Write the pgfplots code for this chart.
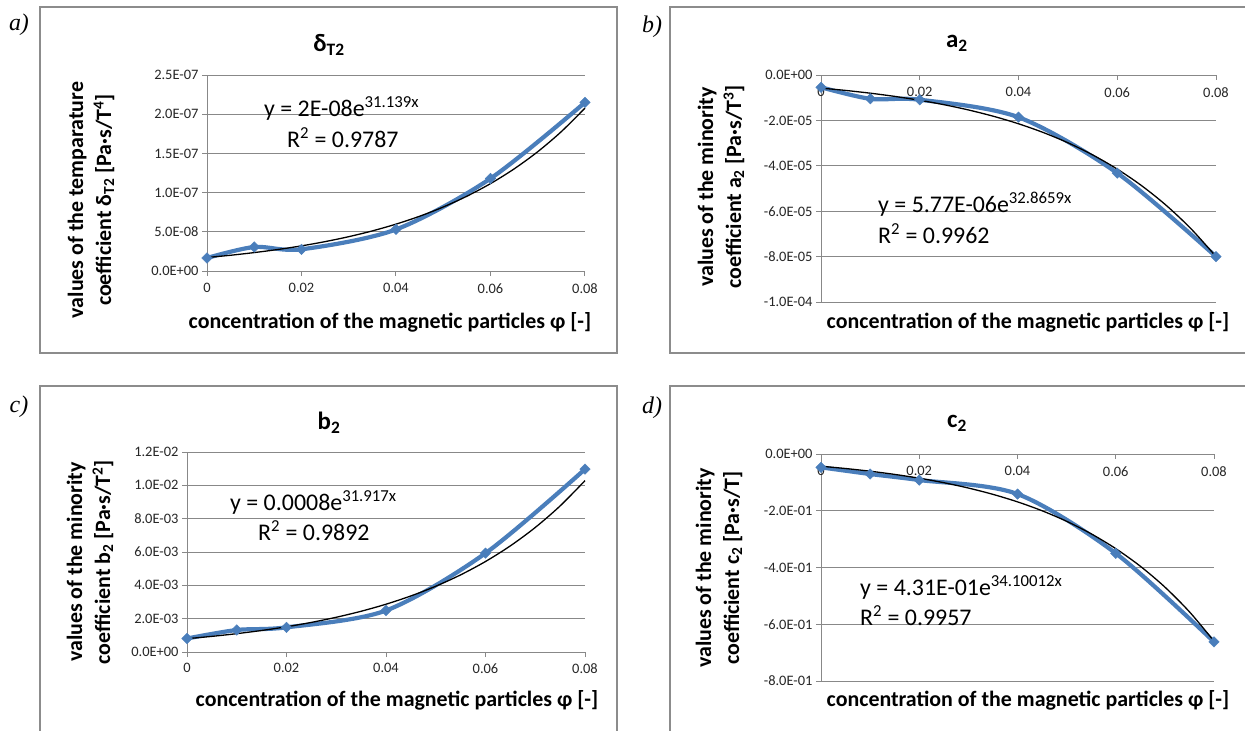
\documentclass[border=0pt]{standalone}
\usepackage{pgfplots}
\pgfplotsset{compat=1.18}
\usepackage{fontspec}
\setmainfont{Carlito}
\newfontfamily\timesfont{Liberation Serif}
\definecolor{xlblue}{HTML}{4A7EBB}
\definecolor{gridc}{HTML}{888888}
\definecolor{framec}{HTML}{8C8C8C}
\pgfplotsset{
 xlstyle/.style={
  scale only axis, anchor=south west,
  axis x line*=bottom, axis y line*=left,
  axis line style={gridc, line width=1bp},
  ymajorgrids, major grid style={gridc, line width=1bp},
  tick style={gridc, line width=1bp},
  major tick length=5bp, tick align=outside,
  xmin=0, xmax=0.08,
  xtick={0,0.02,0.04,0.06,0.08},
  xticklabels={0,0.02,0.04,0.06,0.08},
  scaled y ticks=false, scaled x ticks=false,
  ticklabel style={font=\fontsize{14.5}{16}\selectfont, text=black!85},
  clip=false,
 },
 blueline/.style={xlblue, line width=4.2bp, smooth, tension=0.5, mark=square*,
   mark size=3.7bp, mark options={rotate=45, solid, line width=0.4bp, fill=xlblue, draw=xlblue}},
 trend/.style={black, line width=1.3bp, smooth, no marks},
}
\tikzset{
 ttl/.style={font=\fontsize{25}{30}\selectfont\bfseries},
 ylab/.style={rotate=90, align=center, font=\fontsize{22}{28}\selectfont\bfseries},
 xlab/.style={font=\fontsize{22}{28}\selectfont\bfseries},
 eqn/.style={anchor=base west, font=\fontsize{24}{28}\selectfont, inner sep=0pt},
 pl/.style={font=\fontsize{24}{28}\selectfont\timesfont\itshape},
}
\begin{document}
\begin{tikzpicture}
\useasboundingbox (0,0) rectangle (1245bp,-731bp);
% frames
\draw[framec, line width=1.2bp] (40bp,-7bp) rectangle (617bp,-353bp);
\draw[framec, line width=1.2bp] (1250bp,-7bp) -- (670bp,-7bp) -- (670bp,-353bp) -- (1250bp,-353bp);
\draw[framec, line width=1.2bp] (40bp,-740bp) -- (40bp,-386bp) -- (617bp,-386bp) -- (617bp,-740bp);
\draw[framec, line width=1.2bp] (670bp,-740bp) -- (670bp,-386bp) -- (1250bp,-386bp);

% ---------- a) delta_T2
\begin{axis}[xlstyle, at={(207bp,-271bp)}, width=378bp, height=196bp,
  xticklabel style={yshift=-4bp},
  ymin=0, ymax=2.5e-7,
  ytick={0,5e-8,1e-7,1.5e-7,2e-7,2.5e-7},
  yticklabels={0.0E+00,5.0E-08,1.0E-07,1.5E-07,2.0E-07,2.5E-07}]
\addplot[blueline] coordinates {(0,1.66e-8) (0.01,3.06e-8) (0.02,2.77e-8) (0.04,5.3e-8) (0.06,1.18e-7) (0.08,2.15e-7)};
\addplot[trend] coordinates {(0,1.72e-8) (0.005,2.0098e-8) (0.01,2.349e-8) (0.015,2.7448e-8) (0.02,3.207e-8) (0.025,3.7473e-8) (0.03,4.378e-8) (0.035,5.1156e-8) (0.04,5.978e-8) (0.045,6.9852e-8) (0.05,8.163e-8) (0.055,9.5383e-8) (0.06,1.1146e-7) (0.065,1.30239e-7) (0.07,1.5219e-7) (0.075,1.77831e-7) (0.08,2.078e-7)};
\end{axis}

% ---------- b) a_2
\begin{axis}[xlstyle, at={(821bp,-302bp)}, width=395bp, height=227bp,
  axis x line*=top, xtick align=inside, ytick align=outside,
  xticklabel style={anchor=north, yshift=-9bp},
  ymin=-1e-4, ymax=0,
  ytick={-1e-4,-8e-5,-6e-5,-4e-5,-2e-5,0},
  yticklabels={-1.0E-04,-8.0E-05,-6.0E-05,-4.0E-05,-2.0E-05,0.0E+00}]
\addplot[blueline] coordinates {(0,-5.4e-6) (0.01,-1.05e-5) (0.02,-1.09e-5) (0.04,-1.86e-5) (0.06,-4.32e-5) (0.08,-8.0e-5)};
\addplot[trend] coordinates {(0,-5.77e-6) (0.005,-6.8005e-6) (0.01,-8.015e-6) (0.015,-9.4465e-6) (0.02,-1.1134e-5) (0.025,-1.3123e-5) (0.03,-1.5466e-5) (0.035,-1.8228e-5) (0.04,-2.1484e-5) (0.045,-2.5321e-5) (0.05,-2.9843e-5) (0.055,-3.5173e-5) (0.06,-4.1455e-5) (0.065,-4.8859e-5) (0.07,-5.7585e-5) (0.075,-6.7870e-5) (0.08,-7.999e-5)};
\end{axis}

% ---------- c) b_2
\begin{axis}[xlstyle, at={(187bp,-652bp)}, width=398bp, height=200bp,
  xticklabel style={yshift=-3bp},
  ymin=0, ymax=1.2e-2,
  ytick={0,2e-3,4e-3,6e-3,8e-3,1e-2,1.2e-2},
  yticklabels={0.0E+00,2.0E-03,4.0E-03,6.0E-03,8.0E-03,1.0E-02,1.2E-02}]
\addplot[blueline] coordinates {(0,8.1e-4) (0.01,1.32e-3) (0.02,1.48e-3) (0.04,2.49e-3) (0.06,5.93e-3) (0.08,1.097e-2)};
\addplot[trend] coordinates {(0,8.0e-4) (0.005,9.384e-4) (0.01,1.1008e-3) (0.015,1.2913e-3) (0.02,1.5147e-3) (0.025,1.7768e-3) (0.03,2.0843e-3) (0.035,2.4449e-3) (0.04,2.868e-3) (0.045,3.3643e-3) (0.05,3.9464e-3) (0.055,4.6292e-3) (0.06,5.4303e-3) (0.065,6.3699e-3) (0.07,7.4721e-3) (0.075,8.7650e-3) (0.08,1.0282e-2)};
\end{axis}

% ---------- d) c_2
\begin{axis}[xlstyle, at={(821bp,-681bp)}, width=393bp, height=227bp,
  axis x line*=top, xtick align=inside, ytick align=outside,
  xticklabel style={anchor=north, yshift=-9bp},
  ymin=-0.8, ymax=0,
  ytick={-0.8,-0.6,-0.4,-0.2,0},
  yticklabels={-8.0E-01,-6.0E-01,-4.0E-01,-2.0E-01,0.0E+00}]
\addplot[blueline] coordinates {(0,-0.047) (0.01,-0.0705) (0.02,-0.0917) (0.04,-0.141) (0.06,-0.350) (0.08,-0.662)};
\addplot[trend] coordinates {(0,-0.0431) (0.005,-0.051112) (0.01,-0.06061) (0.015,-0.071877) (0.02,-0.08525) (0.025,-0.101098) (0.03,-0.11989) (0.035,-0.142178) (0.04,-0.16861) (0.045,-0.199955) (0.05,-0.23713) (0.055,-0.281212) (0.06,-0.33349) (0.065,-0.395486) (0.07,-0.46900) (0.075,-0.556187) (0.08,-0.65959)};
\end{axis}

% panel letters
\node[pl] at (19bp,-25bp) {a)};
\node[pl] at (652bp,-27bp) {b)};
\node[pl] at (19bp,-407bp) {c)};
\node[pl] at (652bp,-408bp) {d)};
% titles
\node[ttl] at (329bp,-45bp) {δ\textsubscript{T2}};
\node[ttl] at (957bp,-43bp) {a\textsubscript{2}};
\node[ttl] at (329bp,-423bp) {b\textsubscript{2}};
\node[ttl] at (957bp,-423bp) {c\textsubscript{2}};
% y labels
\node[ylab] at (91bp,-200bp) {values of the temparature\\coefficient δ\textsubscript{T2} [Pa·s/T\textsuperscript{4}]};
\node[ylab] at (721bp,-187bp) {values of the minority\\coefficient a\textsubscript{2} [Pa·s/T\textsuperscript{3}]};
\node[ylab] at (90bp,-562bp) {values of the minority\\coefficient b\textsubscript{2} [Pa·s/T\textsuperscript{2}]};
\node[ylab] at (719bp,-568bp) {values of the minority\\coefficient c\textsubscript{2} [Pa·s/T]};
% x labels
\node[xlab] at (390bp,-322bp) {concentration of the magnetic particles φ [-]};
\node[xlab] at (1028bp,-322bp) {concentration of the magnetic particles φ [-]};
\node[xlab] at (397bp,-700bp) {concentration of the magnetic particles φ [-]};
\node[xlab] at (1028bp,-700bp) {concentration of the magnetic particles φ [-]};
% equations
\node[eqn] at (264bp,-116bp) {y = 2E-08e\textsuperscript{31.139x}};
\node[eqn] at (287bp,-147bp) {R\textsuperscript{2} = 0.9787};
\node[eqn] at (878bp,-212bp) {y = 5.77E-06e\textsuperscript{32.8659x}};
\node[eqn] at (878bp,-243bp) {R\textsuperscript{2} = 0.9962};
\node[eqn] at (230bp,-510bp) {y = 0.0008e\textsuperscript{31.917x}};
\node[eqn] at (258bp,-540bp) {R\textsuperscript{2} = 0.9892};
\node[eqn] at (860bp,-595bp) {y = 4.31E-01e\textsuperscript{34.10012x}};
\node[eqn] at (860bp,-625bp) {R\textsuperscript{2} = 0.9957};
\end{tikzpicture}
\end{document}
